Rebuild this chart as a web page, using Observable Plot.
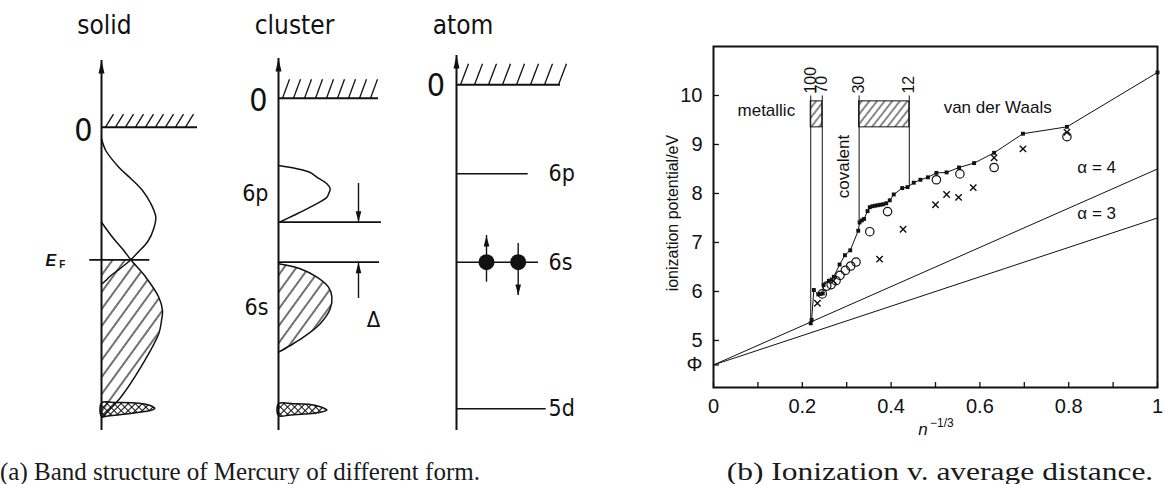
<!DOCTYPE html>
<html><head><meta charset="utf-8">
<script src="https://cdn.jsdelivr.net/npm/d3@7"></script>
<script src="https://cdn.jsdelivr.net/npm/@observablehq/plot@0.6"></script>
<style>
html,body{margin:0;padding:0;background:#fff;}
#root{position:relative;width:1164px;height:484px;overflow:hidden;background:#fff;}
.abs{position:absolute;top:0;}
.cap{position:absolute;font-family:"Liberation Serif","DejaVu Serif",serif;font-size:25px;line-height:25px;color:#1a1a1a;white-space:nowrap;}
</style></head>
<body>
<div id="root">
<svg width="0" height="0" style="position:absolute;left:0;top:0">
<defs>
<pattern id="hatch" patternUnits="userSpaceOnUse" width="10" height="10" patternTransform="rotate(36)"><line x1="5" y1="-1" x2="5" y2="11" stroke="#111" stroke-width="1.2"/></pattern>
<pattern id="hatchFine" patternUnits="userSpaceOnUse" width="6" height="6" patternTransform="rotate(38)"><line x1="3" y1="-1" x2="3" y2="7" stroke="#111" stroke-width="1"/></pattern>
<pattern id="xhatch" patternUnits="userSpaceOnUse" width="5" height="5" patternTransform="rotate(45)"><path d="M2.5,-1V6M-1,2.5H6" stroke="#111" stroke-width="1.1" fill="none"/></pattern>
</defs>
</svg>
<div id="colSolid" class="abs"></div>
<div id="colCluster" class="abs"></div>
<div id="colAtom" class="abs"></div>
<div id="panelB" class="abs" style="left:640px"></div>
<div class="cap" id="capA" style="left:0px;top:459px">(a) Band structure of Mercury of different form.</div>
<div class="cap" id="capB" style="left:940px;top:459px;transform:translateX(-50%) scaleX(1.26)">(b) Ionization v. average distance.</div>
</div>
<script>
// ---------------- Panel (a) data (diagram units: d = density, E = energy) ----------------
const columnTitles = ["solid", "cluster", "atom"];
const columnAxisPx = [100.7, 278.3, 456];   // page position of each column's energy axis
const columnAxisTop = [37.0, 37.2, 37.5];
const vacuumLevels = [ // E of "0", hatched line length
  {E: 30.33, len: 9.6, step: 1.0, dx: 0.8, dy: 1.3, zd: -1.8, zE: 30.0},
  {E: 33.23, len: 10.0, step: 1.1, dx: 0.7, dy: 1.9, zd: -2.0, zE: 33.0},
  {E: 34.57, len: 10.4, step: 1.4, dx: 0.8, dy: 2.1, zd: -2.05, zE: 34.5}
];
// solid
const solidP = [[0,29.2],[0.43,28.0],[1.73,26.33],[2.93,25.2],[4.1,24.0],[4.93,22.7],[5.43,21.33],[5.23,20.2],[4.63,18.9],[3.63,17.8],[2.93,17.07],[2.13,16.4],[1.6,16.0],[0.83,15.4],[0.43,15.0],[0.1,14.7]];
const solidS = [[0,20.83],[1.1,19.33],[2.23,18.0],[2.93,17.07],[4.43,15.33],[5.73,13.33],[6.1,12.0],[6.0,11.0],[5.73,9.7],[3.93,6.33],[1.93,3.33],[0.43,1.7],[0.1,1.33]];
const solidFermi = {E: 17.07, d1: -1.17, d2: 4.83};
const solid5d = [[0,2.75],[1.5,2.8],[3.0,2.78],[4.3,2.65],[5.0,2.45],[5.33,2.2],[4.9,2.0],[3.6,1.8],[2.0,1.6],[0.6,1.45],[0,1.4]];
// cluster
const clusterP = [[0,26.5],[1.84,26.17],[3.17,25.8],[3.84,25.33],[4.84,24.67],[5.17,24.17],[5.02,23.7],[4.84,23.33],[3.17,22.33],[1.5,21.5],[0.1,20.83]];
const clusterS = [[0,16.67],[2.17,16.17],[3.84,15.33],[5.0,14.33],[5.34,13.33],[5.17,12.17],[4.17,10.67],[2.5,9.33],[1.17,8.5],[0,7.83]];
const clusterGap = [{E: 20.83, len: 10.3}, {E: 16.83, len: 10.1}];
const clusterArrows = [{d: 8.0, from: 24.7, to: 20.83}, {d: 8.0, from: 13.2, to: 16.83}];
const cluster5d = [[0,2.67],[1.5,2.68],[3.0,2.62],[4.1,2.4],[4.84,2.05],[4.1,1.8],[2.6,1.65],[1.2,1.55],[0,1.5]];
// atom
const atomLevels = [{name: "6p", E: 25.67, len: 7.17}, {name: "6s", E: 16.83, len: 8.2}, {name: "5d", E: 2.17, len: 8.97}];
const atomElectrons = [{d: 3.0, from: 14.83, to: 19.5}, {d: 6.17, from: 18.7, to: 13.5}];

// ---------------- Panel (b) data ----------------
const phi = 4.5;
const filled = [[0.219,5.35],[0.221,5.42],[0.226,6.03],[0.236,5.94],[0.241,5.95],[0.246,5.96],[0.248,6.13],[0.26,6.22],[0.271,6.3],[0.284,6.55],[0.296,6.74],[0.308,6.84],[0.326,7.24],[0.329,7.41],[0.334,7.45],[0.339,7.48],[0.347,7.64],[0.352,7.72],[0.358,7.74],[0.364,7.75],[0.37,7.76],[0.376,7.77],[0.382,7.78],[0.389,7.8],[0.397,7.86],[0.406,7.98],[0.425,8.11],[0.437,8.13],[0.451,8.22],[0.466,8.28],[0.483,8.33],[0.502,8.42],[0.525,8.43],[0.553,8.53],[0.587,8.62],[0.632,8.83],[0.697,9.22],[0.796,9.36],[1.0,10.47]];
const openCircles = [[0.245,5.95],[0.255,6.11],[0.265,6.14],[0.276,6.22],[0.285,6.33],[0.297,6.43],[0.309,6.52],[0.321,6.6],[0.352,7.22],[0.392,7.63],[0.502,8.28],[0.555,8.40],[0.632,8.53],[0.796,9.16]];
const crosses = [[0.234,5.76],[0.27,6.22],[0.374,6.66],[0.427,7.27],[0.5,7.77],[0.525,7.98],[0.552,7.92],[0.585,8.12],[0.632,8.73],[0.697,8.91],[0.796,9.25]];
const alpha4 = [[0, phi], [1, 8.5]];
const alpha3 = [[0, phi], [1, 7.5]];
const boundaryLabels = ["100", "70", "30", "12"];
const boundaryX = [0.219, 0.245, 0.328, 0.441];
const boundaryBottom = [5.45, 6.1, 7.35, 8.13];
const boundaryTop = 9.99;
const boxes = [{x1: 0.219, x2: 0.245}, {x1: 0.328, x2: 0.441}];
const boxY = [9.35, 9.88];
const regionLabels = [
  {text: "metallic", x: 0.119, y: 9.7, rotate: 0},
  {text: "van der Waals", x: 0.64, y: 9.75, rotate: 0},
  {text: "covalent", x: 0.293, y: 8.55, rotate: -90},
  {text: "α = 4", x: 0.863, y: 8.52, rotate: 0},
  {text: "α = 3", x: 0.863, y: 7.6, rotate: 0}
];
const yAxisTitle = {text: "ionization potential/eV", y: 7.6};
const xTickMarks = [0, 0.1, 0.2, 0.3, 0.4, 0.5, 0.6, 0.7, 0.8, 0.9, 1];
const xTickLabels = [0, 0.2, 0.4, 0.6, 0.8, 1];
const yTickValues = [phi, 5, 6, 7, 8, 9, 10];

// ---------------- drawing ----------------
const FONT_A = '"DejaVu Sans Condensed", "Liberation Sans Narrow", "DejaVu Sans", sans-serif';
const INK = "#111";
const headUp = {draw(c) { c.moveTo(0, 0); c.lineTo(3, 13); c.lineTo(-3, 13); c.closePath(); }};
const headUpSmall = {draw(c) { c.moveTo(0, 0); c.lineTo(2.8, 11); c.lineTo(-2.8, 11); c.closePath(); }};
const headDownSmall = {draw(c) { c.moveTo(0, 0); c.lineTo(2.8, -11); c.lineTo(-2.8, -11); c.closePath(); }};
const P = (a) => a.map(([d, E]) => ({d, E}));

function commonMarks(i) {
  const v = vacuumLevels[i];
  return [
    Plot.ruleX([0], {y1: 0, y2: columnAxisTop[i], stroke: INK, strokeWidth: 2}),
    Plot.dot([{d: 0, E: columnAxisTop[i]}], {x: "d", y: "E", symbol: headUp, fill: INK, stroke: "none"}),
    Plot.ruleY([v.E], {x1: 0, x2: v.len, stroke: INK, strokeWidth: 2}),
    Plot.link(d3.range(0.4, v.len - 0.2, v.step), {x1: d => d, y1: v.E, x2: d => d + v.dx, y2: v.E + v.dy, stroke: INK, strokeWidth: 1.3}),
    Plot.text(["0"], {x: v.zd, y: v.zE, fontSize: 32, fill: INK}),
    Plot.text([columnTitles[i]], {x: [0.3, 1.6, 0.65][i], y: 40.5, fontSize: 26, fill: INK})
  ];
}
function col(el, i, marks) {
  const p = Plot.plot({
    width: 200, height: 440, margin: 0,
    x: {domain: [-9, 11], axis: null}, y: {domain: [-1, 43], axis: null},
    style: {background: "transparent", overflow: "visible", fontFamily: FONT_A, color: INK},
    marks: [...commonMarks(i), ...marks]
  });
  const host = document.getElementById(el);
  host.style.left = (columnAxisPx[i] - 90) + "px";
  host.appendChild(p);
}

// solid
col("colSolid", 0, [
  Plot.areaX(P(solidS).filter(p => p.E <= solidFermi.E + 0.01), {y: "E", x1: 0, x2: "d", fill: "url(#hatch)", curve: "catmull-rom"}),
  Plot.line(P(solidP), {x: "d", y: "E", stroke: INK, strokeWidth: 1.5, curve: "catmull-rom"}),
  Plot.line(P(solidS), {x: "d", y: "E", stroke: INK, strokeWidth: 1.5, curve: "catmull-rom"}),
  Plot.ruleY([solidFermi.E], {x1: solidFermi.d1, x2: solidFermi.d2, stroke: INK, strokeWidth: 1.8}),
  Plot.line(P(solid5d), {x: "d", y: "E", fill: "url(#xhatch)", stroke: INK, strokeWidth: 1.5, curve: "catmull-rom-closed"}),
  Plot.text(["E"], {x: -5.07, y: 17.0, fontSize: 16, fontStyle: "italic", fontWeight: "bold", fill: INK, fontFamily: "Liberation Sans, sans-serif"}),
  Plot.text(["F"], {x: -3.92, y: 16.55, fontSize: 10, fontWeight: "bold", fill: INK, fontFamily: "Liberation Sans, sans-serif"})
]);
// cluster
col("colCluster", 1, [
  Plot.areaX(P(clusterS), {y: "E", x1: 0, x2: "d", fill: "url(#hatch)", curve: "catmull-rom"}),
  Plot.line(P(clusterS), {x: "d", y: "E", stroke: INK, strokeWidth: 1.5, curve: "catmull-rom"}),
  Plot.line(P(clusterP), {x: "d", y: "E", stroke: INK, strokeWidth: 1.5, curve: "catmull-rom"}),
  Plot.ruleY(clusterGap, {y: "E", x1: 0, x2: "len", stroke: INK, strokeWidth: 1.8}),
  Plot.ruleX(clusterArrows, {x: "d", y1: "from", y2: "to", stroke: INK, strokeWidth: 1.4}),
  Plot.dot([clusterArrows[0]], {x: "d", y: "to", symbol: headDownSmall, fill: INK, stroke: "none"}),
  Plot.dot([clusterArrows[1]], {x: "d", y: "to", symbol: headUpSmall, fill: INK, stroke: "none"}),
  Plot.line(P(cluster5d), {x: "d", y: "E", fill: "url(#xhatch)", stroke: INK, strokeWidth: 1.5, curve: "catmull-rom-closed"}),
  Plot.text(["6p", "6s"], {x: -1.0, y: [23.7, 12.3], textAnchor: "end", fontSize: 23, fill: INK}),
  Plot.text(["Δ"], {x: 9.5, y: 11.1, fontSize: 22, fill: INK})
]);
// atom
col("colAtom", 2, [
  Plot.ruleY(atomLevels, {y: "E", x1: 0, x2: "len", stroke: INK, strokeWidth: 1.5}),
  Plot.text(atomLevels, {x: 9.2, y: "E", text: "name", textAnchor: "start", fontSize: 23, fill: INK}),
  Plot.ruleX(atomElectrons, {x: "d", y1: "from", y2: "to", stroke: INK, strokeWidth: 1.4}),
  Plot.dot([atomElectrons[0]], {x: "d", y: "to", symbol: headUpSmall, fill: INK, stroke: "none"}),
  Plot.dot([atomElectrons[1]], {x: "d", y: "to", symbol: headDownSmall, fill: INK, stroke: "none"}),
  Plot.dot(atomElectrons, {x: "d", y: atomLevels[1].E, r: 8, fill: INK, stroke: "none"})
]);

// panel (b)
const fmtX = v => v === 0 ? "0" : v === 1 ? "1" : v.toFixed(1);
const plotB = Plot.plot({
  width: 524, height: 445, marginLeft: 73, marginRight: 7, marginTop: 46, marginBottom: 58,
  x: {domain: [0, 1], axis: null}, y: {domain: [4.04, 11], axis: null},
  style: {background: "transparent", overflow: "visible", fontFamily: '"Liberation Sans", Arial, sans-serif', color: INK},
  marks: [
    Plot.rect(boxes, {x1: "x1", x2: "x2", y1: boxY[0], y2: boxY[1], fill: "url(#hatchFine)", stroke: INK, strokeWidth: 1}),
    Plot.ruleX(boundaryX.map((x, i) => ({x, y1: boundaryBottom[i], y2: boundaryTop})), {x: "x", y1: "y1", y2: "y2", stroke: INK, strokeWidth: 1}),
    Plot.text(boundaryLabels, {x: (d, i) => boundaryX[i], y: 10.04, rotate: -90, textAnchor: "start", fontSize: 16, fill: INK}),
    Plot.line(alpha4, {x: d => d[0], y: d => d[1], stroke: INK, strokeWidth: 1}),
    Plot.line(alpha3, {x: d => d[0], y: d => d[1], stroke: INK, strokeWidth: 1}),
    Plot.line(filled, {x: d => d[0], y: d => d[1], stroke: INK, strokeWidth: 1}),
    Plot.dot(openCircles, {x: d => d[0], y: d => d[1], r: 4.2, stroke: INK, strokeWidth: 1.2, fill: "none"}),
    Plot.dot(crosses, {x: d => d[0], y: d => d[1], symbol: "times", r: 3, stroke: INK, strokeWidth: 1.4}),
    Plot.dot(filled, {x: d => d[0], y: d => d[1], symbol: "square", r: 2.2, fill: INK, stroke: "none"}),
    Plot.text(regionLabels, {x: "x", y: "y", text: "text", rotate: "rotate", fontSize: 17, fill: INK}),
    Plot.frame({stroke: INK, strokeWidth: 2}),
    Plot.tickX(xTickMarks, {x: d => d, insetTop: 336, stroke: INK, strokeWidth: 1.3}),
    Plot.tickY(yTickValues, {y: d => d, insetRight: 438, stroke: INK, strokeWidth: 1.3}),
    Plot.axisX({ticks: xTickLabels, tickSize: 0, tickPadding: 11, tickFormat: fmtX, fontSize: 20, label: null}),
    Plot.axisY({ticks: yTickValues, tickSize: 0, tickPadding: 11, tickFormat: v => v === phi ? "Φ" : String(v), fontSize: 20, label: null}),
    Plot.text([yAxisTitle], {x: 0, y: "y", text: "text", dx: -41, rotate: -90, textAnchor: "middle", fontSize: 16, fill: INK}),
    Plot.text(["n"], {x: 0.472, y: 4.04, dy: 42, fontSize: 17, fontStyle: "italic", fill: INK}),
    Plot.text(["−1/3"], {x: 0.472, y: 4.04, dy: 36, dx: 7, textAnchor: "start", fontSize: 12, fill: INK})
  ]
});
document.getElementById("panelB").appendChild(plotB);
</script>
</body></html>
